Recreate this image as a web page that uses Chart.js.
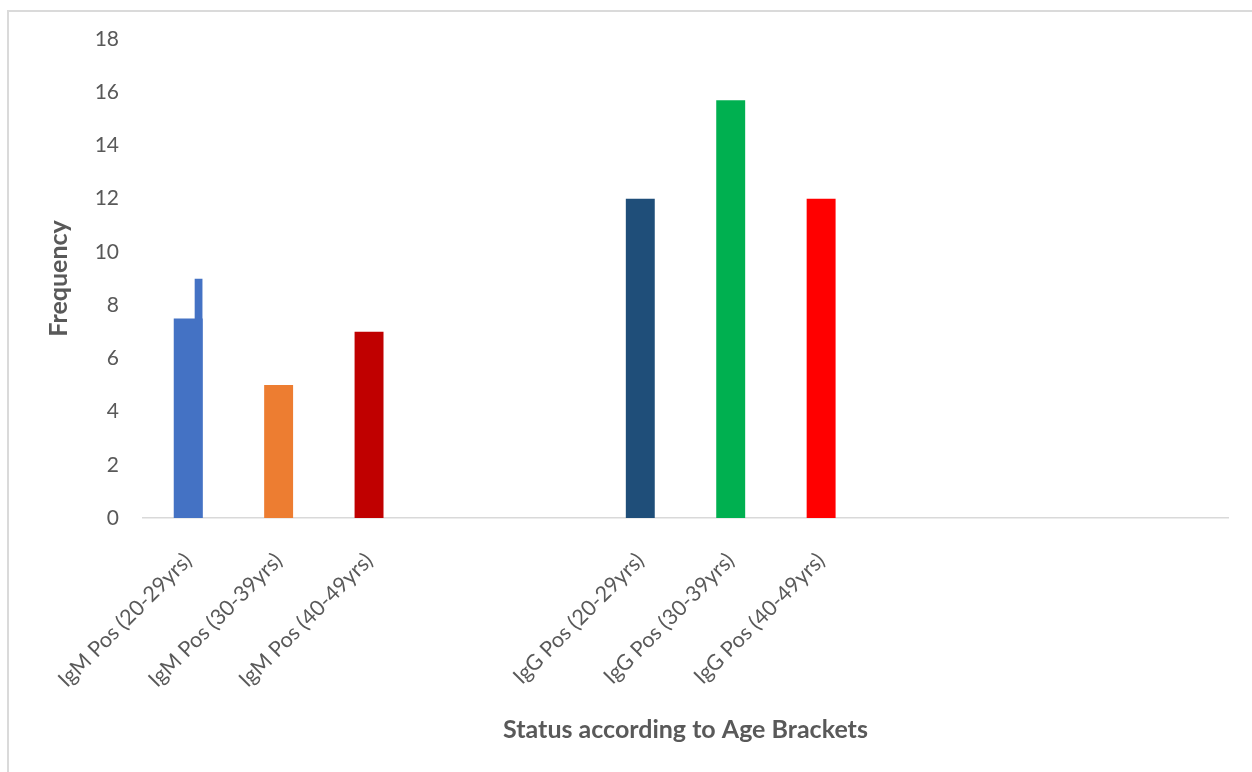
<!DOCTYPE html>
<html>
<head>
<meta charset="utf-8">
<title>Status according to Age Brackets</title>
<script src="https://cdn.jsdelivr.net/npm/chart.js@4.4.0/dist/chart.umd.min.js"></script>
<style>
  html, body { margin: 0; padding: 0; background: #fff; overflow: hidden; }
  #wrap { position: relative; width: 1252px; height: 772px; }
  #frame {
    position: absolute; left: 7px; top: 10px;
    width: 1300px; height: 820px;
    border: 2px solid #dadada;
  }
  #chartBox { position: absolute; left: 0; top: 0; width: 1252px; height: 772px; }
</style>
</head>
<body>
<div id="wrap">
  <div id="frame"></div>
  <div id="chartBox"><canvas id="ageChart"></canvas></div>
</div>
<script>
// Categories (empty slots are the gaps Excel left on the axis)
const categories = [
  'IgM Pos (20-29yrs)', 'IgM Pos (30-39yrs)', 'IgM Pos (40-49yrs)', '', '',
  'IgG Pos (20-29yrs)', 'IgG Pos (30-39yrs)', 'IgG Pos (40-49yrs)', '', '', '', ''
];
// Frequency per category
const frequency = [7.5, 5, 7, null, null, 12, 15.7, 12, null, null, null, null];
// Second value sitting on the first bar (the little step up to 9)
const stepValues = [9, null, null, null, null, null, null, null, null, null, null, null];
const barColors = [
  '#4472C4', '#ED7D31', '#C00000', '#000', '#000',
  '#1F4E79', '#00B050', '#FF0000', '#000', '#000', '#000', '#000'
];
const yTicks = { min: 0, max: 18, step: 2 };

const textGrey = '#595959';
const fontFamily = 'Lato, "Open Sans", sans-serif';

document.addEventListener('DOMContentLoaded', function() {
  const ctx = document.getElementById('ageChart').getContext('2d');

  new Chart(ctx, {
    type: 'bar',
    data: {
      labels: categories,
      datasets: [{
        label: 'Frequency',
        data: frequency,
        backgroundColor: barColors,
        borderWidth: 0,
        grouped: false,
        barPercentage: 0.32,
        categoryPercentage: 1
      }, {
        label: 'Step',
        data: stepValues,
        backgroundColor: 'rgba(0,0,0,0)',
        borderColor: '#4472C4',
        // only the right edge is painted, giving the narrow strip up to 9
        borderWidth: { top: 0, right: 8, bottom: 0, left: 0 },
        borderSkipped: false,
        grouped: false,
        barPercentage: 0.32,
        categoryPercentage: 1
      }]
    },
    options: {
      responsive: true,
      maintainAspectRatio: false,
      animation: false,
      events: [],
      layout: {
        padding: { top: 39, right: 24, bottom: 0, left: 0 }
      },
      plugins: {
        legend: { display: false },
        tooltip: { enabled: false }
      },
      scales: {
        x: {
          grid: { display: false, drawTicks: false },
          border: { display: true, color: '#d9d9d9', width: 1.5 },
          ticks: {
            color: textGrey,
            font: { family: fontFamily, size: 21.5 },
            minRotation: 45,
            maxRotation: 45,
            autoSkip: false,
            padding: 30
          },
          title: {
            display: true,
            text: 'Status according to Age Brackets',
            color: textGrey,
            font: { family: fontFamily, size: 25, weight: 'bold' },
            padding: { top: 0, bottom: 27 }
          },
          afterFit: function(scale) {
            scale.height = 254;
          }
        },
        y: {
          min: yTicks.min,
          max: yTicks.max,
          grid: { display: false, drawTicks: false },
          border: { display: false },
          ticks: {
            stepSize: yTicks.step,
            color: textGrey,
            font: { family: fontFamily, size: 21 },
            padding: 24
          },
          title: {
            display: true,
            text: 'Frequency',
            color: textGrey,
            font: { family: fontFamily, size: 25, weight: 'bold' },
            padding: { top: 44, bottom: 0 }
          },
          afterFit: function(scale) {
            scale.width = 143;
          }
        }
      }
    }
  });
});
</script>
</body>
</html>
